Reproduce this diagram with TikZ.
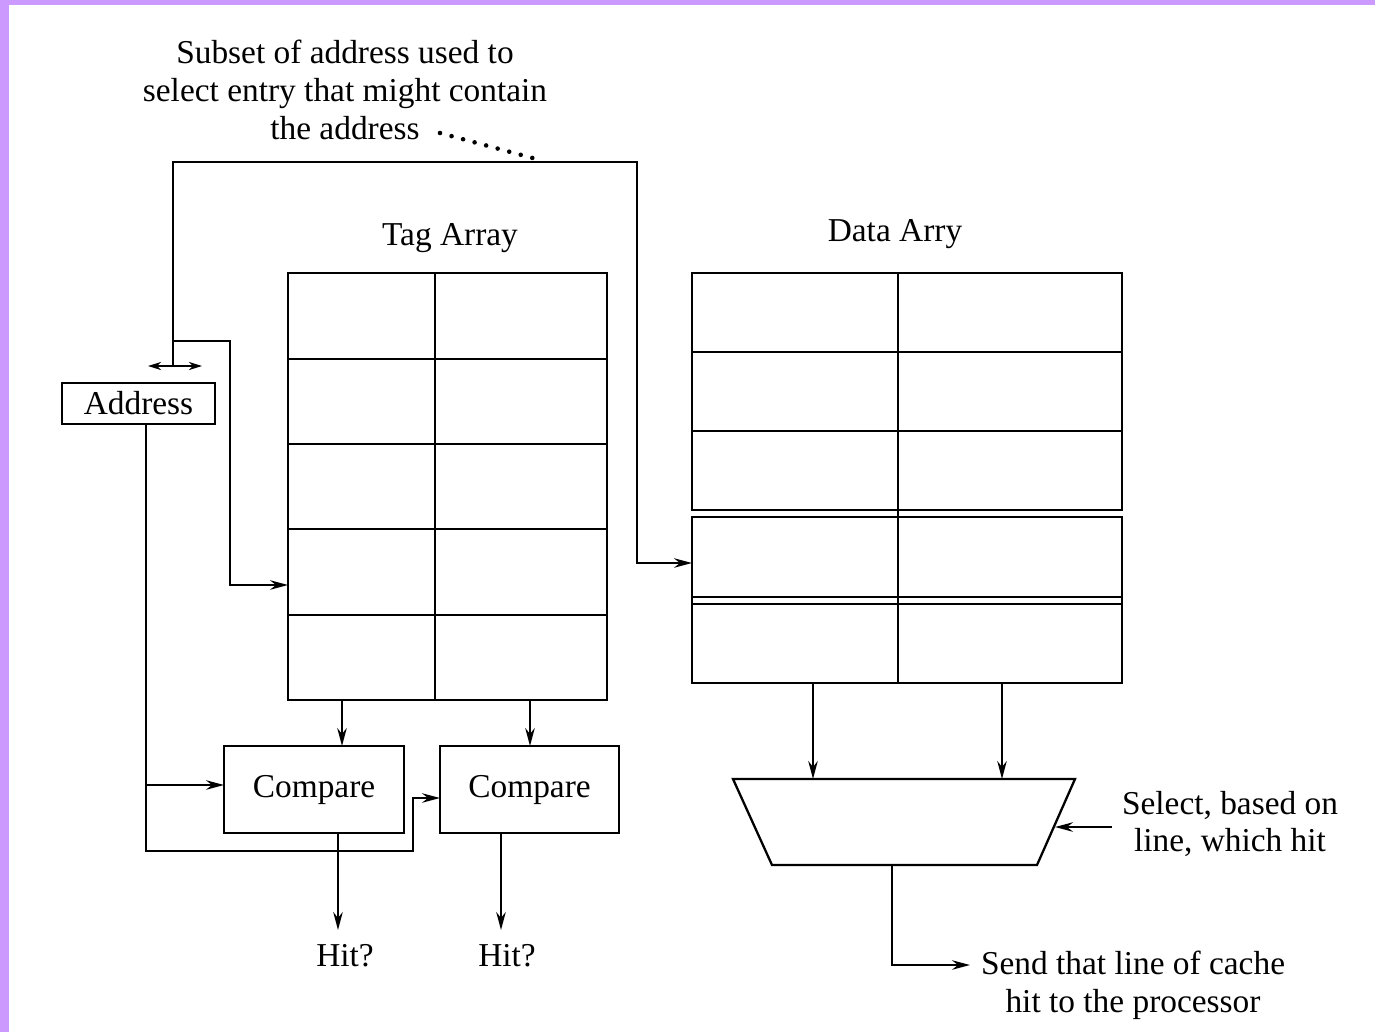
\documentclass[tikz,border=0pt]{standalone}
\usepackage{fontspec}
\setmainfont{Liberation Serif}
\usetikzlibrary{arrows.meta}
\definecolor{frame}{HTML}{CC99FF}
\begin{document}
\begin{tikzpicture}[x=0.02cm,y=-0.02cm,line width=1.3pt,
  lbl/.style={font=\fontsize{19}{21.5}\selectfont,align=center,inner sep=0pt},
  cell/.style={draw,inner sep=0pt,outer sep=0pt},
  arr/.style={-{Stealth[length=0.36cm,width=0.19cm,inset=0.12cm]}},
  darr/.style={{Stealth[length=0.26cm,width=0.16cm,inset=0.08cm]}-{Stealth[length=0.26cm,width=0.16cm,inset=0.08cm]}}]
\fill[frame] (0,0) rectangle (1375,1032);
\fill[white] (9,5) rectangle (1375,1032);
\useasboundingbox (0,0) rectangle (1375,1032);

% texts
\node[lbl] (subset) at (345,90) {Subset of address used to\\select entry that might contain\\the address};
\node[lbl] (taglbl) at (450,238) {Tag Array};
\node[lbl] (datalbl) at (895,234) {Data Arry};
\node[lbl] (sellbl) at (1230,824) {Select, based on\\line, which hit};
\node[lbl] (sendlbl) at (1133,985) {Send that line of cache\\hit to the processor};
\node[lbl] (hit1) at (345,956) {Hit?};
\node[lbl] (hit2) at (507,956) {Hit?};

% tag array
\node[cell,minimum width=6.38cm,minimum height=8.54cm] (tag) at (447.5,486.5) {};
\draw (435,0 |- tag.north) -- (435,0 |- tag.south);
\foreach \yy in {359,444,529,615} \draw (tag.west |- 0,\yy) -- (tag.east |- 0,\yy);

% data array
\node[cell,minimum width=8.6cm,minimum height=4.74cm] (dup) at (907,391.5) {};
\node[cell,minimum width=8.6cm,minimum height=3.32cm] (dlow) at (907,600) {};
\draw (898,0 |- dup.north) -- (898,0 |- dup.south);
\draw (898,0 |- dlow.north) -- (898,0 |- dlow.south);
\draw (898,0 |- dup.south) -- (898,0 |- dlow.north);
\foreach \yy in {352,431} \draw (dup.west |- 0,\yy) -- (dup.east |- 0,\yy);
\foreach \yy in {597,604} \draw (dlow.west |- 0,\yy) -- (dlow.east |- 0,\yy);

% address and compares
\node[cell,lbl,draw,minimum width=3.06cm,minimum height=0.82cm] (addr) at (138.5,403.5) {Address};
\node[cell,lbl,draw,minimum width=3.6cm,minimum height=1.74cm] (c1) at (314,789.5) {Compare};
\node[cell,lbl,draw,minimum width=3.58cm,minimum height=1.74cm] (c2) at (529.5,789.5) {Compare};

% multiplexer
\coordinate (mtl) at (733,779);
\coordinate (mtr) at (1075,779);
\coordinate (mbr) at (1037,865);
\coordinate (mbl) at (772,865);
\draw (mtl) -- (mtr) -- (mbr) -- (mbl) -- cycle;

% double arrow above address
\coordinate (dl) at (148,366);
\coordinate (dr) at (202,366);
\coordinate (dmid) at (173,366);
\draw[darr] (dl) -- (dr);

% address path to data array
\coordinate (din) at (692,563);
\draw[arr] (dmid) |- (637,162) |- (din);
% dotted pointer
\coordinate (dotstart) at (440,133);
\coordinate (dotend) at (540,160);
\draw[line width=2.6pt,line cap=round,dash pattern=on 0pt off 6.8pt] (dotstart) -- (dotend);

% index to tag array
\draw[arr] (173,341) -| (230,585) -- (tag.west |- 0,585);

% address tag to comparators
\draw[arr] (146,0 |- addr.south) |- (413,851) |- (c2.west |- 0,798);
\draw[arr] (146,785) -- (c1.west |- 0,785);

% tag outputs to compares
\draw[arr] (342,0 |- tag.south) -- (342,0 |- c1.north);
\draw[arr] (530,0 |- tag.south) -- (530,0 |- c2.north);

% hit outputs
\coordinate (h1) at (338,930);
\coordinate (h2) at (501,930);
\draw[arr] (338,0 |- c1.south) -- (h1);
\draw[arr] (501,0 |- c2.south) -- (h2);

% data outputs to mux
\draw[arr] (813,0 |- dlow.south) -- (813,0 |- mtl);
\draw[arr] (1002,0 |- dlow.south) -- (1002,0 |- mtl);

% select input
\draw[arr] (1112,827) -- (1055,827);

% output
\coordinate (sendin) at (970,965);
\draw[arr] (892,0 |- mbl) |- (sendin);
\end{tikzpicture}
\end{document}
